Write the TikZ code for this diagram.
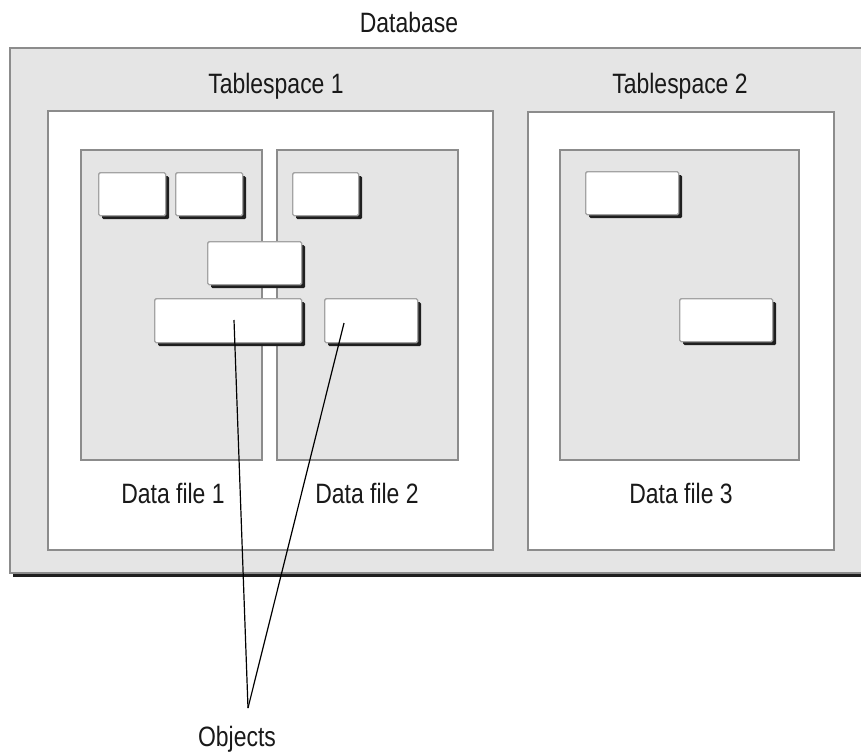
\documentclass[tikz,border=0pt]{standalone}
\usepackage{fontspec}
\setmainfont{Liberation Sans}[FakeStretch=0.82]
\usetikzlibrary{shadows}
\definecolor{panel}{gray}{0.90}
\definecolor{edge}{gray}{0.55}
\definecolor{shade}{gray}{0.12}
\tikzset{
  box/.style={draw=edge, line width=1.8pt, fill=panel, inner sep=0pt, anchor=north west},
  space/.style={draw=edge, line width=1.8pt, fill=white, inner sep=0pt, anchor=north west},
  obj/.style={draw=edge!80, line width=1.4pt, fill=white, rounded corners=1.5pt, inner sep=0pt,
    anchor=north west,
    drop shadow={shadow xshift=3.5pt, shadow yshift=-3.5pt, opacity=1, fill=shade}},
  lbl/.style={font=\fontsize{28}{32}\selectfont, text=black!90, inner sep=0pt, anchor=base},
  pointer/.style={draw=black, line width=1.2pt}
}
\begin{document}
\begin{tikzpicture}[x=1pt,y=-1pt]
\useasboundingbox (0,0) rectangle (861,753);
\fill[white] (0,0) rectangle (861,753);
\begin{scope}
\clip (0,0) rectangle (861,753);
% database frame with its bottom shadow
\node[box, minimum width=880pt, minimum height=525pt,
  drop shadow={shadow xshift=3.5pt, shadow yshift=-4pt, opacity=1, fill=shade}] (db) at (9,47) {};
\end{scope}
\node[lbl] (dbl) at (409,32) {Database};

% tablespaces
\node[space, minimum width=445pt, minimum height=439pt] (ts1) at (47,110) {};
\node[space, minimum width=306pt, minimum height=438pt] (ts2) at (527,111) {};
\node[lbl] (ts1l) at (276,93) {Tablespace 1};
\node[lbl] (ts2l) at (680,93) {Tablespace 2};

% data files
\node[box, minimum width=181pt, minimum height=310pt] (df1) at (80,149) {};
\node[box, minimum width=181pt, minimum height=310pt] (df2) at (276,149) {};
\node[box, minimum width=239pt, minimum height=310pt] (df3) at (559,149) {};
\node[lbl] (df1l) at (173,503) {Data file 1};
\node[lbl] (df2l) at (367,503) {Data file 2};
\node[lbl] (df3l) at (681,503) {Data file 3};

% objects
\node[obj, minimum width=67pt, minimum height=43pt] (o1) at (98,172) {};
\node[obj, minimum width=67pt, minimum height=43pt] (o2) at (175,172) {};
\node[obj, minimum width=66pt, minimum height=43pt] (o3) at (292,172) {};
\node[obj, minimum width=94pt, minimum height=43pt] (o4) at (207,241) {};
\node[obj, minimum width=147pt, minimum height=44pt] (o5) at (154,298) {};
\node[obj, minimum width=93pt, minimum height=44pt] (o6) at (324,298) {};
\node[obj, minimum width=93pt, minimum height=43pt] (o7) at (585,171) {};
\node[obj, minimum width=93pt, minimum height=43pt] (o8) at (679,298) {};

% callout
\node[lbl] (objl) at (237,746) {Objects};
\coordinate (p5) at (234,320);
\coordinate (p6) at (344,323);
\coordinate (tip) at (248,708);
\draw[pointer] (p5) -- (tip);
\draw[pointer] (p6) -- (tip);
\end{tikzpicture}
\end{document}
